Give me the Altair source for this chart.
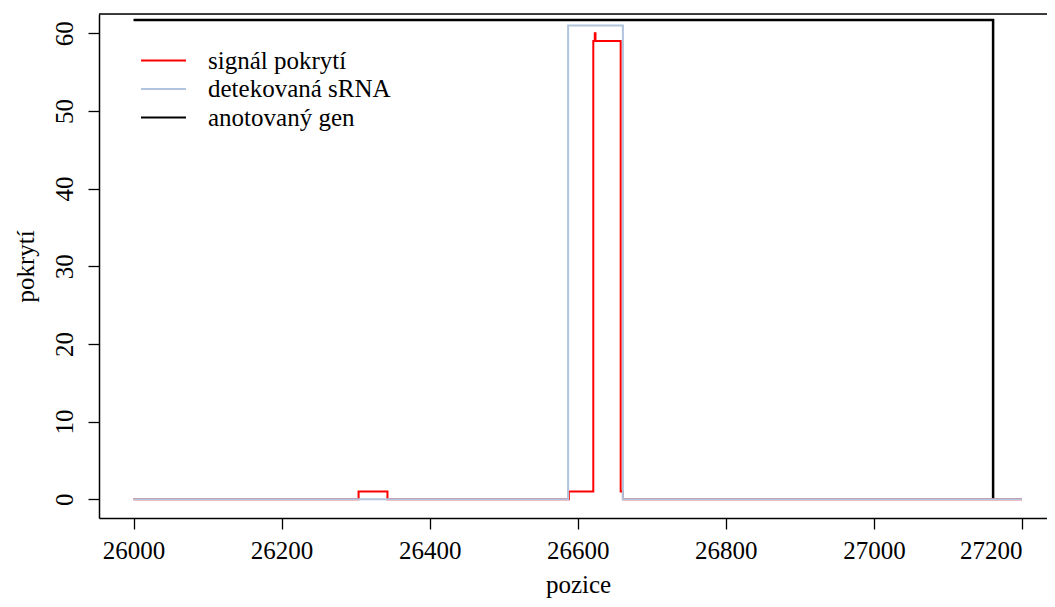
import altair as alt
import pandas as pd

# ---- data ----
signal_x = [26000, 26304, 26343, 26588, 26621, 26623, 26624, 26658, 26661, 27200]
signal_y = [0, 1, 0, 1, 59, 60, 59, 1, 0, 0]
srna_x = [26000, 26587, 26661, 27200]
srna_y = [0, 61, 0, 0]
gene_x = [26000, 27161]
gene_y = [61.7, 0]

series = ["signál pokrytí", "detekovaná sRNA", "anotovaný gen"]
colors = ["#FF0000", "#B0C4DE", "#000000"]
x_ticks = [26000, 26200, 26400, 26600, 26800, 27000, 27200]
y_ticks = [0, 10, 20, 30, 40, 50, 60]

FONT = "Liberation Serif"
W, H = 948, 504


def frame(xs, ys, name):
    return pd.DataFrame({"pozice": xs, "pokrytí": ys, "serie": name})


df_sig = frame(signal_x, signal_y, series[0])
df_srna = frame(srna_x, srna_y, series[1])
df_gene = frame(gene_x, gene_y, series[2])

xscale = alt.Scale(domain=[25953.4, 27233.8], nice=False, zero=False)
yscale = alt.Scale(domain=[-2.41, 62.48], nice=False, zero=False)

xaxis = alt.Axis(
    values=x_ticks, format="d", title="pozice", grid=False,
    tickSize=11, tickColor="black", tickWidth=1.3,
    domainColor="black", domainWidth=1.5,
    labelFont=FONT, labelFontSize=25, labelColor="black", labelPadding=9,
    labelFlush=30,
    titleFont=FONT, titleFontSize=25, titleFontWeight="normal", titleColor="black",
    titleBaseline="alphabetic", titleY=74, titleX=479,
)
yaxis = alt.Axis(
    values=y_ticks, title="pokrytí", grid=False,
    tickSize=11, tickColor="black", tickWidth=1.3,
    domainColor="black", domainWidth=1.5,
    labelFont=FONT, labelFontSize=25, labelColor="black",
    labelAngle=270, labelAlign="center", labelBaseline="alphabetic", labelPadding=16,
    titleFont=FONT, titleFontSize=25, titleFontWeight="normal", titleColor="black",
    titleAngle=270, titleAlign="center", titleBaseline="alphabetic",
    titleX=-65.5, titleY=252,
)

color = alt.Color(
    "serie:N",
    scale=alt.Scale(domain=series, range=colors),
    legend=alt.Legend(
        orient="none", legendX=52, legendY=34, title=None, padding=0,
        symbolType="M-5,0H5", symbolSize=81, symbolStrokeWidth=2,
        labelFont=FONT, labelFontSize=25, labelColor="black", labelLimit=0,
        labelOffset=32, rowPadding=2.5,
    ),
)


def layer(df, width):
    return alt.Chart(df).mark_line(interpolate="step-after", strokeWidth=width).encode(
        x=alt.X("pozice:Q", scale=xscale, axis=xaxis),
        y=alt.Y("pokrytí:Q", scale=yscale, axis=yaxis),
        color=color,
    )


top_border = alt.Chart(pd.DataFrame({"a": [0]})).mark_rule(
    color="black", strokeWidth=1.5
).encode(x=alt.value(0), x2=alt.value(W), y=alt.value(0))

chart = alt.layer(
    layer(df_gene, 2.5),
    layer(df_sig, 2),
    layer(df_srna, 2),
    top_border,
).properties(
    width=W, height=H,
    autosize=alt.AutoSizeParams(type="none"),
    padding={"left": 91, "top": 6, "right": 0, "bottom": 81},
).configure_view(stroke=None).configure(background="white")

chart.save("out.html", embed_options={"renderer": "svg", "actions": False})
